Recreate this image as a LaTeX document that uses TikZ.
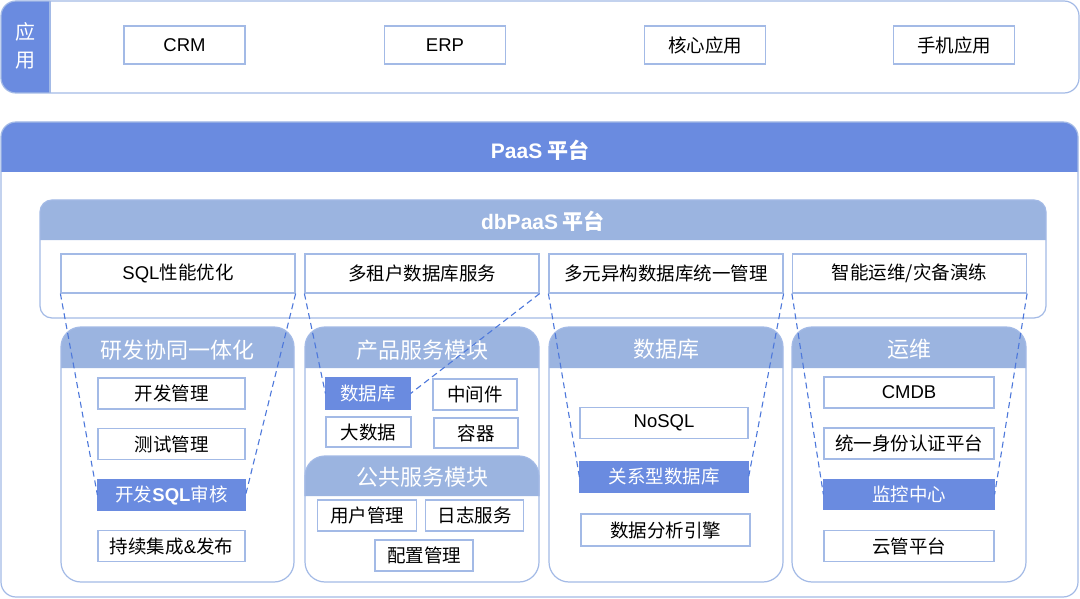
\documentclass[tikz,border=0pt]{standalone}
\usepackage{fontspec}
\setmainfont{Noto Sans CJK SC}
\newfontfamily\latin{Liberation Sans}
\definecolor{deepblue}{HTML}{6A8BE0}
\definecolor{paleblue}{HTML}{9BB4E0}
\definecolor{rimblue}{HTML}{A3BAE6}
\definecolor{dashblue}{HTML}{4D78DB}
\begin{document}
\begin{tikzpicture}[x=1pt,y=-1pt,
  item/.style={draw=rimblue,line width=1.2pt,fill=white,inner sep=0pt,
    minimum height=31,font=\fontsize{18.5}{22}\selectfont},
  hot/.style={item,draw=deepblue,fill=deepblue,text=white},
  head/.style={text=white,font=\fontsize{22}{26}\selectfont},
  frame/.style={draw=rimblue,line width=1.2pt},
  link/.style={dashblue,dash pattern=on 6pt off 4pt,line width=1.1pt}]
\useasboundingbox (0,0) rectangle (1080,599);
% application layer
\fill[white,rounded corners=15] (1,1) rectangle (1079,93);
\fill[deepblue] (50,1) [rounded corners=15] -- (1,1) -- (1,93) [sharp corners] -- (50,93) -- cycle;
\draw[frame,rounded corners=15] (1,1) rectangle (1079,93);
\draw[rimblue,line width=1.2pt] (50,1) -- (50,93);
\node[head,align=center,font=\fontsize{20}{28}\selectfont] (appname) at (26,46) {应\\用};
\node[item,minimum width=121,minimum height=38] (crm) at (184.5,45) {\latin CRM};
\node[item,minimum width=121,minimum height=38] (erp) at (445,45) {\latin ERP};
\node[item,minimum width=121,minimum height=38] (coreapp) at (705,45) {核心应用};
\node[item,minimum width=121,minimum height=38] (mobapp) at (954,45) {手机应用};
% PaaS
\fill[white,rounded corners=15] (1,122) rectangle (1078,597);
\fill[deepblue] (1,172) [rounded corners=15] -- (1,122) -- (1078,122) [sharp corners] -- (1078,172) -- cycle;
\draw[frame,rounded corners=15] (1,122) rectangle (1078,597);
\node[head,font=\fontsize{21}{24}\selectfont\bfseries] (paas) at (540,150) {{\latin PaaS} 平台};
% dbPaaS
\fill[paleblue] (40,240) [rounded corners=12] -- (40,200) -- (1046,200) [sharp corners] -- (1046,240) -- cycle;
\draw[frame,rounded corners=12] (40,200) rectangle (1046,318);
\node[head,font=\fontsize{21}{24}\selectfont\bfseries] (dbpaas) at (543,221) {{\latin dbPaaS} 平台};
\node[item,minimum width=234,minimum height=39] (sqlopt) at (178,273.5) {{\latin SQL}性能优化};
\node[item,minimum width=234,minimum height=39] (tenant) at (422,273.5) {多租户数据库服务};
\node[item,minimum width=234,minimum height=39] (hetero) at (666,273.5) {多元异构数据库统一管理};
\node[item,minimum width=234,minimum height=39] (aiops) at (909.5,273.5) {智能运维/灾备演练};
% modules
\foreach \xa/\xb in {61/294,305/539,549/783,792/1026}{
  \fill[paleblue] (\xa,368) [rounded corners=20] -- (\xa,327) -- (\xb,327) [sharp corners] -- (\xb,368) -- cycle;
  \draw[frame,rounded corners=20] (\xa,327) rectangle (\xb,582);
}
\fill[paleblue] (305,496) [rounded corners=20] -- (305,456) -- (539,456) [sharp corners] -- (539,496) -- cycle;
\draw[rimblue,line width=1.2pt] (305,496) [rounded corners=20] -- (305,456) -- (539,456) [sharp corners] -- (539,496);
\node[head] (devops) at (177.5,350) {研发协同一体化};
\node[head] (prodmod) at (422,350) {产品服务模块};
\node[head] (pubmod) at (422,477) {公共服务模块};
\node[head] (dbmod) at (666,349) {数据库};
\node[head] (opsmod) at (909,349) {运维};
\node[item,minimum width=147] (devmgr) at (171.5,393.5) {开发管理};
\node[item,minimum width=147] (testmgr) at (171.5,444) {测试管理};
\node[hot,minimum width=147] (devsql) at (171.5,495) {开发{\latin\bfseries SQL}审核};
\node[item,minimum width=147] (cicd) at (171.5,546) {持续集成{\latin\&}发布};
\node[hot,minimum width=84] (dbsvc) at (368,393.5) {数据库};
\node[item,minimum width=84] (midware) at (475,394.5) {中间件};
\node[item,minimum width=85,minimum height=30] (bigdata) at (368.5,432) {大数据};
\node[item,minimum width=84,minimum height=30] (container) at (476,433) {容器};
\node[item,minimum width=99] (usermgr) at (367,515.5) {用户管理};
\node[item,minimum width=98] (logsvc) at (474.5,515.5) {日志服务};
\node[item,minimum width=98] (confmgr) at (424,555.5) {配置管理};
\node[item,minimum width=168] (nosql) at (664,423) {\latin NoSQL};
\node[hot,minimum width=168,minimum height=30] (reldb) at (664,477) {关系型数据库};
\node[item,minimum width=169,minimum height=32] (analytic) at (665.5,530) {数据分析引擎};
\node[item,minimum width=170] (cmdb) at (909,392.5) {\latin CMDB};
\node[item,minimum width=170] (iam) at (909,443.5) {统一身份认证平台};
\node[hot,minimum width=170,minimum height=30] (monitor) at (909,494.5) {监控中心};
\node[item,minimum width=170] (cloudmgr) at (909,546) {云管平台};
% dashed links
\draw[link] (sqlopt.south west) -- (devsql.west);
\draw[link] (sqlopt.south east) -- (devsql.east);
\draw[link] (tenant.south west) -- (dbsvc.west);
\draw[link] (tenant.south east) -- (dbsvc.east);
\draw[link] (hetero.south west) -- (reldb.west);
\draw[link] (hetero.south east) -- (reldb.east);
\draw[link] (aiops.south west) -- (monitor.west);
\draw[link] (aiops.south east) -- (monitor.east);
\end{tikzpicture}
\end{document}
